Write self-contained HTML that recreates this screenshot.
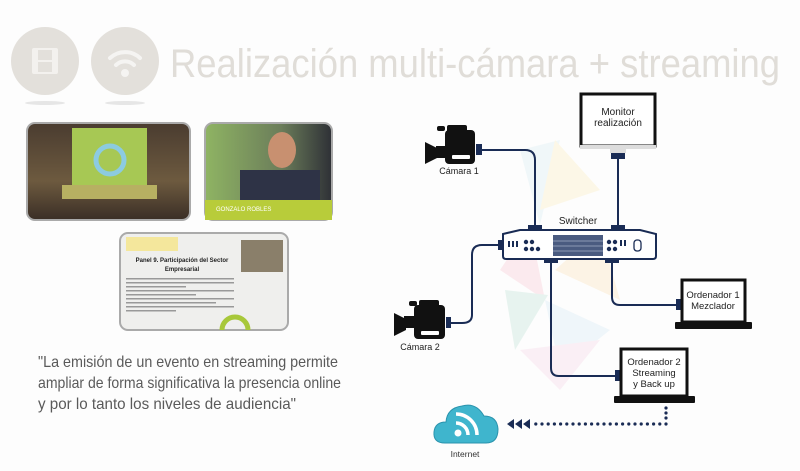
<!DOCTYPE html>
<html><head><meta charset="utf-8"><style>
html,body{margin:0;padding:0;background:#fff;}
svg{display:block;font-family:"Liberation Sans",sans-serif;}
</style></head><body>
<svg width="800" height="471" viewBox="0 0 800 471" xmlns="http://www.w3.org/2000/svg">
<rect width="800" height="471" fill="#fdfdfd"/>
<!-- header circles -->
<ellipse cx="45" cy="103" rx="20" ry="2" fill="#e6e6e6"/>
<ellipse cx="125" cy="103" rx="20" ry="2" fill="#e6e6e6"/>
<circle cx="45" cy="61" r="34" fill="#e3e0db"/>
<circle cx="125" cy="61" r="34" fill="#e3e0db"/>
<rect x="32" y="48" width="26" height="26" rx="2" fill="#f3f1ee"/>
<rect x="38" y="50" width="14" height="10" fill="#e3e0db"/><rect x="38" y="62" width="14" height="10" fill="#e3e0db"/>
<g fill="none" stroke="#f5f4f2" stroke-width="4" stroke-linecap="round">
<path d="M110 58 A22 22 0 0 1 140 58"/><path d="M116 65 A13 13 0 0 1 134 65"/></g>
<circle cx="125" cy="73" r="4" fill="#f5f4f2"/>
<text x="170" y="77" font-size="40" fill="#e0ddd8" textLength="610" lengthAdjust="spacingAndGlyphs">Realización multi-cámara + streaming</text>
<!-- background triangles -->
<g opacity="0.25">
<polygon points="520,150 560,140 540,225" fill="#cde9f0"/>
<polygon points="555,140 600,190 540,210" fill="#fbe8a8"/>
<polygon points="530,225 545,300 500,270" fill="#f7b5c2"/>
<polygon points="555,270 600,230 620,300" fill="#fbd7a0"/>
<polygon points="505,290 548,295 515,350" fill="#a8d9c7"/>
<polygon points="545,300 610,330 560,370" fill="#c7e4f2"/>
<polygon points="520,350 600,340 560,390" fill="#f2c9de"/>
</g>
<!-- thumbnails -->
<defs>
<linearGradient id="g1" x1="0" y1="0" x2="0" y2="1"><stop offset="0" stop-color="#4a3c30"/><stop offset="0.6" stop-color="#6d5a3f"/><stop offset="1" stop-color="#3a2e26"/></linearGradient>
<linearGradient id="g2" x1="0" y1="0" x2="1" y2="0"><stop offset="0" stop-color="#8fb463"/><stop offset="0.6" stop-color="#6b7d5a"/><stop offset="1" stop-color="#2e3036"/></linearGradient>
</defs>
<rect x="27" y="123" width="163" height="97" rx="8" fill="url(#g1)" stroke="#aaa" stroke-width="2"/>
<rect x="72" y="128" width="75" height="58" fill="#a7c854"/>
<circle cx="110" cy="160" r="14" fill="none" stroke="#8ccbe0" stroke-width="5"/>
<rect x="62" y="185" width="95" height="14" fill="#b7b062"/>
<rect x="205" y="123" width="127" height="97" rx="8" fill="url(#g2)" stroke="#aaa" stroke-width="2"/>
<rect x="205" y="200" width="127" height="20" fill="#b8cc3a"/>
<text x="216" y="211" font-size="6" fill="#fff">GONZALO ROBLES</text>
<ellipse cx="282" cy="150" rx="14" ry="18" fill="#c89070"/>
<rect x="240" y="170" width="80" height="30" fill="#2e3346"/>
<rect x="120" y="233" width="168" height="97" rx="8" fill="#efefed" stroke="#aaa" stroke-width="2"/>
<rect x="126" y="237" width="52" height="14" fill="#f4e79c"/>
<rect x="241" y="240" width="42" height="32" fill="#8a7f6a"/>
<text x="182" y="262" font-size="6" font-weight="bold" fill="#222" text-anchor="middle">Panel 9. Participación del Sector</text>
<text x="182" y="271" font-size="6" font-weight="bold" fill="#222" text-anchor="middle">Empresarial</text>
<g fill="#999"><rect x="126" y="278" width="108" height="1.5"/><rect x="126" y="282" width="108" height="1.5"/><rect x="126" y="286" width="60" height="1.5"/><rect x="126" y="290" width="108" height="1.5"/><rect x="126" y="294" width="70" height="1.5"/><rect x="126" y="298" width="108" height="1.5"/><rect x="126" y="302" width="90" height="1.5"/><rect x="126" y="306" width="108" height="1.5"/><rect x="126" y="310" width="50" height="1.5"/></g>
<path d="M222 330 A13 13 0 0 1 248 330" fill="none" stroke="#a8c83a" stroke-width="5"/>
<!-- quote -->
<g font-size="16" fill="#5a5a5a">
<text x="38" y="367" textLength="300" lengthAdjust="spacingAndGlyphs">"La emisión de un evento en streaming permite</text>
<text x="38" y="388" textLength="303" lengthAdjust="spacingAndGlyphs">ampliar de forma significativa la presencia online</text>
<text x="38" y="409" textLength="258" lengthAdjust="spacingAndGlyphs">y por lo tanto los niveles de audiencia"</text>
</g>
<!-- cables -->
<g fill="none" stroke="#1a2c55" stroke-width="2">
<path d="M480 150 H525 Q535 150 535 160 V228"/>
<path d="M618 158 V228"/>
<path d="M502 245 H482 Q472 245 472 255 V315 Q472 323 462 323 H450"/>
<path d="M551 258 V368 Q551 376 559 376 H617"/>
<path d="M612 258 V297 Q612 305 620 305 H678"/>
</g>
<!-- connectors -->
<g fill="#1a2c55">
<rect x="476" y="144" width="6" height="11"/>
<rect x="528" y="225" width="14" height="6"/><rect x="611" y="225" width="14" height="6"/>
<rect x="611" y="153" width="14" height="6"/>
<rect x="498" y="240" width="5" height="10"/>
<rect x="544" y="258" width="14" height="5"/><rect x="605" y="258" width="14" height="5"/>
<rect x="446" y="317" width="5" height="11"/>
<rect x="676" y="299" width="5" height="11"/><rect x="615" y="370" width="5" height="11"/>
</g>
<!-- switcher -->
<text x="578" y="224" font-size="10" fill="#222" text-anchor="middle">Switcher</text>
<path d="M503 234 L520 230 H640 L656 234 V256 Q656 259 653 259 H506 Q503 259 503 256 Z" fill="#fff" stroke="#1a2c55" stroke-width="2"/>
<rect x="553" y="235" width="50" height="21" fill="#4a5b80"/>
<g stroke="#8c9ab5" stroke-width="1"><line x1="553" y1="241" x2="603" y2="241"/><line x1="553" y1="246" x2="603" y2="246"/><line x1="553" y1="251" x2="603" y2="251"/></g>
<g fill="#1a2c55">
<rect x="508" y="241" width="2" height="6"/><rect x="512" y="241" width="2" height="6"/><rect x="516" y="241" width="2" height="6"/>
<circle cx="526" cy="242" r="2.2"/><circle cx="532" cy="242" r="2.2"/><circle cx="526" cy="249" r="2.2"/><circle cx="532" cy="249" r="2.2"/><circle cx="538" cy="249" r="2.2"/>
<circle cx="609" cy="242" r="2.2"/><circle cx="615" cy="242" r="2.2"/><circle cx="609" cy="249" r="2.2"/><circle cx="615" cy="249" r="2.2"/>
<rect x="620" y="240" width="2" height="6"/><rect x="624" y="240" width="2" height="6"/>
</g>
<rect x="634" y="240" width="7" height="11" rx="3" fill="none" stroke="#1a2c55" stroke-width="1.3"/>
<!-- monitor -->
<rect x="581" y="94" width="74" height="52" fill="#fff" stroke="#111" stroke-width="3"/>
<rect x="580" y="145" width="76" height="4" fill="#ddd"/>
<rect x="610" y="149" width="16" height="4" fill="#ddd"/>
<text x="618" y="115" font-size="10" fill="#222" text-anchor="middle">Monitor</text>
<text x="618" y="126" font-size="10" fill="#222" text-anchor="middle">realización</text>
<!-- cameras -->
<g fill="#111">
<rect x="437" y="126" width="8" height="5" rx="2"/><rect x="447" y="125" width="20" height="10" rx="2"/>
<rect x="445" y="130" width="30" height="34" rx="4"/>
<polygon points="425,142 437,148 437,158 425,164"/>
<rect x="436" y="146" width="12" height="12"/>
</g>
<rect x="452" y="155" width="18" height="4" rx="1" fill="#fff"/>
<text x="459" y="174" font-size="9" fill="#222" text-anchor="middle">Cámara 1</text>
<g fill="#111">
<rect x="409" y="301" width="8" height="5" rx="2"/><rect x="419" y="300" width="20" height="10" rx="2"/>
<rect x="414" y="305" width="31" height="34" rx="4"/>
<polygon points="394,313 406,319 406,330 394,336"/>
<rect x="404" y="316" width="12" height="12"/>
</g>
<rect x="421" y="331" width="18" height="4" rx="1" fill="#fff"/>
<text x="420" y="350" font-size="9" fill="#222" text-anchor="middle">Cámara 2</text>
<!-- laptops -->
<rect x="682" y="280" width="63" height="42" fill="#fff" stroke="#111" stroke-width="3"/>
<rect x="675" y="322" width="77" height="7" rx="1" fill="#111"/>
<text x="713" y="298" font-size="9.5" fill="#222" text-anchor="middle">Ordenador 1</text>
<text x="713" y="309" font-size="9.5" fill="#222" text-anchor="middle">Mezclador</text>
<rect x="621" y="349" width="66" height="47" fill="#fff" stroke="#111" stroke-width="3"/>
<rect x="614" y="396" width="81" height="7" rx="1" fill="#111"/>
<text x="654" y="365" font-size="9.5" fill="#222" text-anchor="middle">Ordenador 2</text>
<text x="654" y="376" font-size="9.5" fill="#222" text-anchor="middle">Streaming</text>
<text x="654" y="387" font-size="9.5" fill="#222" text-anchor="middle">y Back up</text>
<!-- dotted path -->
<g fill="#1a2c55">
<circle cx="666" cy="408" r="1.6"/><circle cx="666" cy="413" r="1.6"/><circle cx="666" cy="418" r="1.6"/>
</g>
<line x1="666" y1="424" x2="533" y2="424" stroke="#1a2c55" stroke-width="3.2" stroke-dasharray="0 6.2" stroke-linecap="round"/>
<g fill="#1a2c55">
<polygon points="507,424 514,419 514,429"/><polygon points="515,424 522,419 522,429"/><polygon points="523,424 530,419 530,429"/>
</g>
<!-- cloud -->
<path d="M445 443 Q433 443 434 432 Q435 422 446 422 Q447 408 462 406 Q476 402 484 416 Q497 416 498 429 Q498 443 486 443 Z" fill="#3fb5cd" stroke="#2a93ad" stroke-width="1"/>
<circle cx="458" cy="433" r="3.5" fill="#fff"/>
<g fill="none" stroke="#fff" stroke-width="3.5">
<path d="M456 423 A12 12 0 0 1 468 435"/><path d="M456 414 A21 21 0 0 1 477 435"/></g>
<text x="465" y="457" font-size="8.5" fill="#333" text-anchor="middle">Internet</text>
</svg>
</body></html>
